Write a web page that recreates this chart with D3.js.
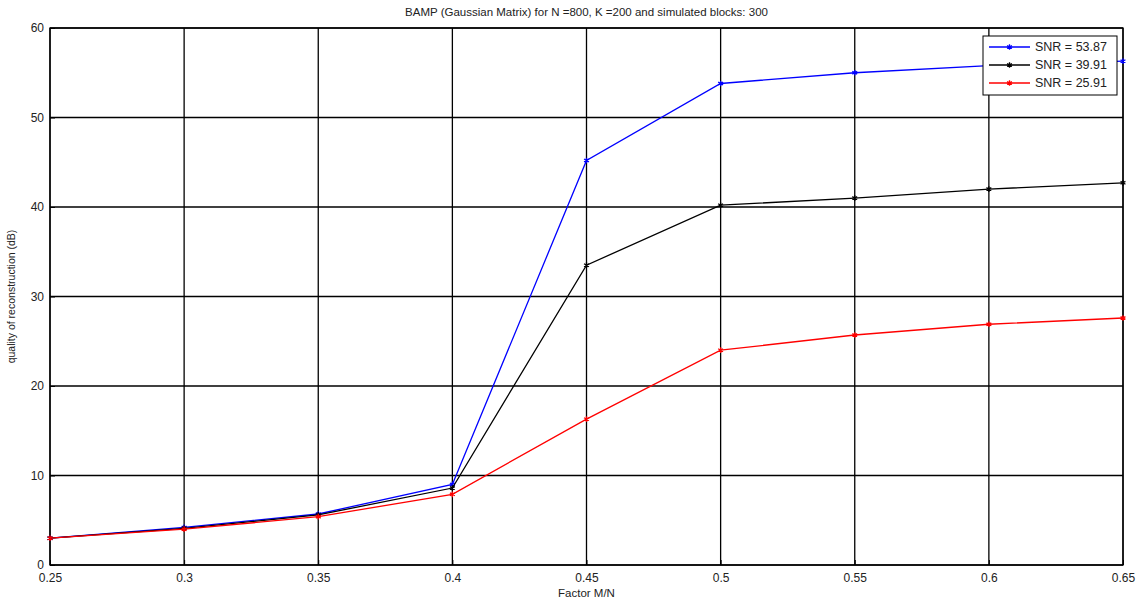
<!DOCTYPE html>
<html>
<head>
<meta charset="utf-8">
<script src="https://cdn.jsdelivr.net/npm/d3@7"></script>
<style>
  body { margin: 0; background: #fff; }
  text { font-family: "Liberation Sans", Arial, sans-serif; }
</style>
</head>
<body>
<svg width="1142" height="607"></svg>
<script>
var factors = [0.25, 0.3, 0.35, 0.4, 0.45, 0.5, 0.55, 0.6, 0.65];
var snr5387 = [3.0, 4.2, 5.7, 9.0, 45.2, 53.8, 55.0, 55.8, 56.3];
var snr3991 = [3.0, 4.1, 5.6, 8.6, 33.5, 40.2, 41.0, 42.0, 42.7];
var snr2591 = [3.0, 4.0, 5.4, 7.9, 16.3, 24.0, 25.7, 26.9, 27.6];
var seriesNames = ["SNR = 53.87", "SNR = 39.91", "SNR = 25.91"];
var seriesColors = ["#0000ff", "#000000", "#ff0000"];
var yTicks = [0, 10, 20, 30, 40, 50, 60];

var svg = d3.select("svg");
var margin = {top: 28, right: 19, bottom: 42, left: 50};
var width = 1142, height = 607;
var innerWidth = width - margin.left - margin.right;
var innerHeight = height - margin.top - margin.bottom;

var x = d3.scaleLinear().domain([0.25, 0.65]).range([0, innerWidth]);
var y = d3.scaleLinear().domain([0, 60]).range([innerHeight, 0]);

var g = svg.append("g").attr("transform", "translate(" + margin.left + "," + margin.top + ")");

// grid
g.selectAll(".vgrid").data(factors).enter().append("line")
    .attr("x1", function(d) { return x(d); }).attr("x2", function(d) { return x(d); })
    .attr("y1", 0).attr("y2", innerHeight)
    .attr("stroke", "#000").attr("stroke-width", 1.3);
g.selectAll(".hgrid").data(yTicks).enter().append("line")
    .attr("y1", function(d) { return y(d); }).attr("y2", function(d) { return y(d); })
    .attr("x1", 0).attr("x2", innerWidth)
    .attr("stroke", "#000").attr("stroke-width", 1.3);

g.append("rect").attr("width", innerWidth).attr("height", innerHeight)
    .attr("fill", "none").attr("stroke", "#000").attr("stroke-width", 1.3);

// axes
var xAxis = g.append("g").attr("transform", "translate(0," + innerHeight + ")")
    .call(d3.axisBottom(x).tickValues(factors).tickSize(-5).tickPadding(8).tickFormat(d3.format("")));
var yAxis = g.append("g")
    .call(d3.axisLeft(y).tickValues(yTicks).tickSize(-5).tickPadding(6));
[xAxis, yAxis].forEach(function(a) {
  a.select(".domain").remove();
  a.selectAll("text").attr("font-size", 12).attr("fill", "#222")
    .style("font-family", "'Liberation Sans', Arial, sans-serif");
});

var allSeries = [snr5387, snr3991, snr2591];
var line = d3.line().x(function(d, i) { return x(factors[i]); }).y(function(d) { return y(d); });
var star = d3.symbol().type(d3.symbolAsterisk).size(22);

allSeries.forEach(function(s, k) {
  g.append("path").datum(s).attr("d", line)
      .attr("fill", "none").attr("stroke", seriesColors[k]).attr("stroke-width", 1.3);
  g.selectAll(".m" + k).data(s).enter().append("path")
      .attr("d", star)
      .attr("transform", function(d, i) { return "translate(" + x(factors[i]) + "," + y(d) + ")"; })
      .attr("fill", "none").attr("stroke", seriesColors[k]).attr("stroke-width", 1.3);
});

// title and labels
svg.append("text").attr("x", margin.left + innerWidth / 2).attr("y", 16)
    .attr("text-anchor", "middle").attr("font-size", 11.5).attr("fill", "#222")
    .text("BAMP (Gaussian Matrix) for N =800, K =200 and simulated blocks: 300");
svg.append("text").attr("x", margin.left + innerWidth / 2).attr("y", 597)
    .attr("text-anchor", "middle").attr("font-size", 11.5).attr("fill", "#222")
    .text("Factor M/N");
svg.append("text").attr("transform", "translate(15," + (margin.top + innerHeight / 2) + ") rotate(-90)")
    .attr("text-anchor", "middle").attr("font-size", 10.5).attr("fill", "#222")
    .text("quality of reconstruction (dB)");

// legend
var legend = svg.append("g").attr("transform", "translate(983,36)");
legend.append("rect").attr("width", 134).attr("height", 59)
    .attr("fill", "#fff").attr("stroke", "#000").attr("stroke-width", 1);
seriesNames.forEach(function(name, k) {
  var ly = 11 + k * 18;
  legend.append("line").attr("x1", 6).attr("x2", 47).attr("y1", ly).attr("y2", ly)
      .attr("stroke", seriesColors[k]).attr("stroke-width", 1.3);
  legend.append("path").attr("d", star).attr("transform", "translate(26.5," + ly + ")")
      .attr("fill", "none").attr("stroke", seriesColors[k]).attr("stroke-width", 1.3);
  legend.append("text").attr("x", 52).attr("y", ly + 4).attr("font-size", 12.5).attr("fill", "#222")
      .text(name);
});
</script>
</body>
</html>
